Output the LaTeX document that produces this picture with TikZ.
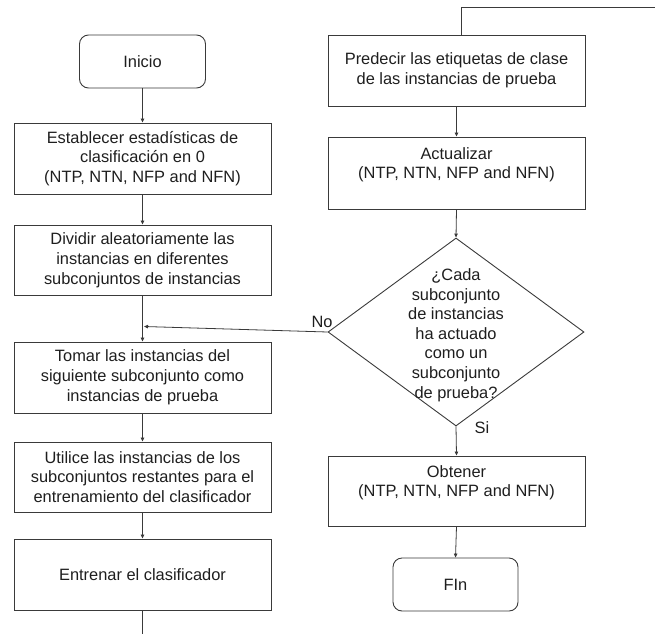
\documentclass[tikz,border=0pt]{standalone}
\usepackage{fontspec}
\setmainfont{Liberation Sans}
\usetikzlibrary{shapes.geometric,arrows.meta}
\definecolor{linecol}{HTML}{3A3A3A}
\definecolor{txtcol}{HTML}{1E1E1E}
\begin{document}
\begin{tikzpicture}[x=1pt,y=-1pt,
  font=\fontsize{16.4}{19.8}\selectfont,
  procbox/.style={draw=linecol, line width=0.9pt, minimum width=257pt, minimum height=71pt, inner sep=0pt, align=center, text=txtcol},
  termbox/.style={draw=linecol, line width=0.9pt, rounded corners=9pt, minimum width=126pt, minimum height=53pt, inner sep=0pt, align=center, text=txtcol},
  conn/.style={draw=linecol, line width=0.8pt},
  arr/.style={conn, -{Triangle[length=4pt,width=3.5pt]}},
  lbl/.style={text=txtcol, inner sep=0pt}
]
\useasboundingbox (0,0) rectangle (655,634);
% left column
\node[termbox] (inicio) at (142.5,61.5) {Inicio};
\node[procbox] (b2) at (142.5,158.5) {Establecer estadísticas de\\clasificación en 0\\(NTP, NTN, NFP and NFN)};
\node[procbox, minimum height=70pt] (b3) at (142.5,260) {Dividir aleatoriamente las\\instancias en diferentes\\subconjuntos de instancias};
\node[procbox] (b4) at (142.5,377.5) {Tomar las instancias del\\siguiente subconjunto como\\instancias de prueba};
\node[procbox, minimum height=70pt] (b5) at (142.5,477) {Utilice las instancias de los\\subconjuntos restantes para el\\entrenamiento del clasificador};
\node[procbox] (b6) at (142.5,574.5) {Entrenar el clasificador};
% right column
\node[procbox] (pred) at (456.5,70.5) {Predecir las etiquetas de clase\\de las instancias de prueba};
\node[procbox, minimum height=72pt] (act) at (456.5,173) {Actualizar\\(NTP, NTN, NFP and NFN)\\\mbox{}};
\node[diamond, draw=linecol, line width=0.9pt, minimum width=256pt, minimum height=188pt, inner sep=0pt] (dec) at (456,332) {};
\node[lbl, align=center, font=\fontsize{16.4}{19.6}\selectfont] (dectxt) at (456,335) {¿Cada\\subconjunto\\de instancias\\ha actuado\\como un\\subconjunto\\de prueba?};
\node[procbox, minimum height=70pt] (obt) at (456.5,491) {Obtener\\(NTP, NTN, NFP and NFN)\\\mbox{}};
\node[termbox, minimum width=125pt] (fin) at (455.5,584.5) {FIn};
% labels
\node[lbl] (no) at (322,322) {No};
\node[lbl] (si) at (482,428) {Si};
% free coordinates
\coordinate (join) at (144,326.5);
\coordinate (bottomend) at (142.5,634);
\coordinate (topright) at (655,7.5);
\coordinate (topcorner) at (461,7.5);
% connectors
\draw[arr] (inicio.south) -- (b2.north);
\draw[arr] (b2.south) -- (b3.north);
\draw[arr] (b3.south) -- (b4.north);
\draw[arr] (dec.west) -- (join);
\draw[arr] (b4.south) -- (b5.north);
\draw[arr] (b5.south) -- (b6.north);
\draw[conn] (b6.south) -- (bottomend);
\draw[conn] (topright) -- (topcorner) -- (topcorner |- pred.north);
\draw[arr] (pred.south) -- (act.north);
\draw[arr] (act.south) -- (dec.north);
\draw[arr] (dec.south) -- (obt.north);
\draw[arr] (obt.south) -- (fin.north);
\end{tikzpicture}
\end{document}
